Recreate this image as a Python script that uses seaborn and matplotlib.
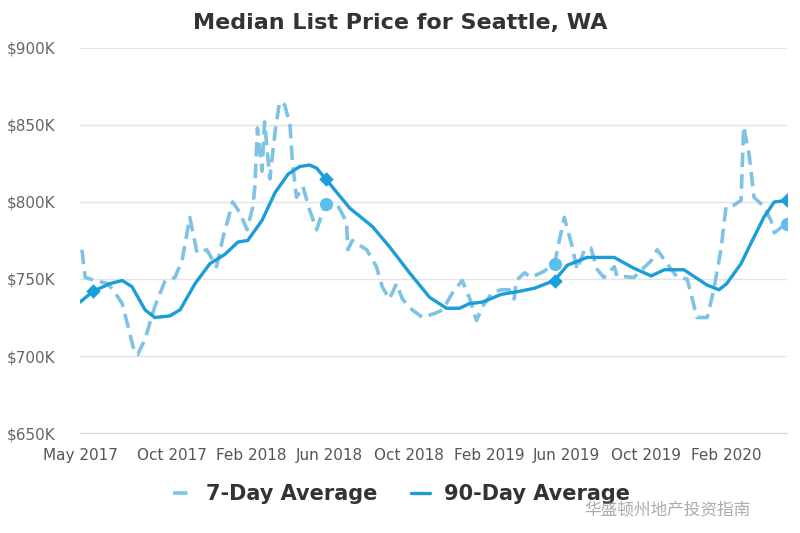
import matplotlib
matplotlib.use("Agg")
import matplotlib.pyplot as plt
from matplotlib.ticker import FuncFormatter
import pandas as pd
import seaborn as sns

# 7-day average ($K)
dates_7day = [
    "2017-05-16", "2017-05-21", "2017-06-05", "2017-06-25", "2017-07-06", "2017-07-17",
    "2017-07-26", "2017-08-05", "2017-08-10", "2017-08-21", "2017-09-05", "2017-09-21",
    "2017-10-06", "2017-10-17", "2017-10-29", "2017-11-09", "2017-11-24", "2017-12-09",
    "2017-12-19", "2018-01-03", "2018-01-14", "2018-01-25", "2018-02-03", "2018-02-06",
    "2018-02-10", "2018-02-17", "2018-02-21", "2018-03-01", "2018-03-09", "2018-03-16",
    "2018-03-24", "2018-04-01", "2018-04-05", "2018-04-11", "2018-04-21", "2018-05-01",
    "2018-05-12", "2018-05-26", "2018-06-12", "2018-06-27", "2018-06-29", "2018-07-06",
    "2018-07-28", "2018-08-12", "2018-08-21", "2018-09-01", "2018-09-12", "2018-09-21",
    "2018-10-06", "2018-10-22", "2018-11-12", "2018-11-22", "2018-12-07", "2018-12-22",
    "2019-01-02", "2019-01-13", "2019-01-22", "2019-02-06", "2019-02-20", "2019-03-04",
    "2019-03-12", "2019-03-15", "2019-03-28", "2019-04-07", "2019-04-27", "2019-05-13",
    "2019-05-28", "2019-06-08", "2019-06-17", "2019-06-28", "2019-07-08", "2019-07-18",
    "2019-07-28", "2019-08-13", "2019-08-17", "2019-09-12", "2019-10-09", "2019-10-18",
    "2019-11-02", "2019-11-18", "2019-12-03", "2019-12-11", "2019-12-18", "2020-01-03",
    "2020-01-13", "2020-01-24", "2020-02-01", "2020-02-13", "2020-02-24", "2020-02-28",
    "2020-03-07", "2020-03-15", "2020-03-30", "2020-04-10", "2020-04-15", "2020-05-04",
]
values_7day = [
    769, 751, 749, 747, 741, 734,
    719, 702, 701, 711, 732, 749,
    751, 762, 790, 767, 769, 758,
    777, 800, 793, 782, 797, 810,
    848, 820, 852, 815, 845, 865,
    863, 850, 825, 803, 810, 795,
    782, 799, 799, 787, 769, 775,
    769, 758, 745, 737, 747, 737,
    730, 725, 728, 730, 741, 749,
    738, 723, 732, 741, 743, 743,
    737, 749, 754, 751, 755, 760,
    790, 773, 756, 769, 770, 756,
    751, 758, 752, 751, 762, 769,
    760, 751, 750, 737, 725, 725,
    743, 769, 797, 798, 801, 849,
    832, 803, 797, 788, 780, 786,
]

# 90-day average ($K)
dates_90day = [
    "2017-05-13", "2017-06-02", "2017-06-28", "2017-07-17", "2017-08-01", "2017-08-21",
    "2017-09-05", "2017-09-28", "2017-10-14", "2017-11-06", "2017-11-29", "2017-12-22",
    "2018-01-11", "2018-01-26", "2018-02-17", "2018-03-09", "2018-03-29", "2018-04-16",
    "2018-05-01", "2018-05-12", "2018-05-26", "2018-07-02", "2018-08-06", "2018-09-01",
    "2018-10-02", "2018-11-02", "2018-11-28", "2018-12-18", "2019-01-02", "2019-01-22",
    "2019-02-20", "2019-03-20", "2019-04-12", "2019-05-13", "2019-06-02", "2019-07-02",
    "2019-08-13", "2019-09-12", "2019-10-09", "2019-10-29", "2019-11-28", "2020-01-03",
    "2020-01-21", "2020-02-02", "2020-02-24", "2020-03-10", "2020-03-30", "2020-04-15",
    "2020-05-04",
]
values_90day = [
    735, 742, 747, 749, 745, 730,
    725, 726, 730, 747, 760, 766,
    774, 775, 788, 806, 818, 823,
    824, 822, 815, 796, 784, 771,
    754, 738, 731, 731, 734, 735,
    740, 742, 744, 749, 759, 764,
    764, 757, 752, 756, 756, 746,
    743, 747, 760, 773, 790, 800,
    801,
]

# highlighted points
marker_dates_7day = ["2018-05-26", "2019-05-13", "2020-05-04"]
marker_dates_90day = ["2017-06-02", "2018-05-26", "2019-05-13", "2020-05-04"]

tick_dates = ["2017-05-13", "2017-10-01", "2018-02-01", "2018-06-01", "2018-10-01",
              "2019-02-01", "2019-06-01", "2019-10-01", "2020-02-01"]
tick_labels = ["May 2017", "Oct 2017", "Feb 2018", "Jun 2018", "Oct 2018",
               "Feb 2019", "Jun 2019", "Oct 2019", "Feb 2020"]

df7 = pd.DataFrame({"date": pd.to_datetime(dates_7day), "price": values_7day})
df90 = pd.DataFrame({"date": pd.to_datetime(dates_90day), "price": values_90day})

sns.set_style("white")
plt.rcParams["font.family"] = ["DejaVu Sans", "Noto Sans CJK SC"]

color_7 = "#7fc3e4"
color_90 = "#1b9dd7"

fig = plt.figure(figsize=(8, 5.33), dpi=100)
ax = fig.add_axes([0.1, 0.1876, 0.884, 0.7224])

sns.lineplot(data=df7, x="date", y="price", ax=ax, color=color_7, lw=2.6,
             label="7-Day Average")
ax.lines[-1].set_dashes([4, 2])
sns.lineplot(data=df90, x="date", y="price", ax=ax, color=color_90, lw=2.4,
             label="90-Day Average")

m7 = df7[df7["date"].isin(pd.to_datetime(marker_dates_7day))]
m90 = df90[df90["date"].isin(pd.to_datetime(marker_dates_90day))]
ax.scatter(m7["date"], m7["price"], s=90, color="#5bbfeb", zorder=5, linewidths=0)
ax.scatter(m90["date"], m90["price"], s=55, marker="D", color="#1a9fdc", zorder=6,
           linewidths=0)

ax.set_ylim(650, 900)
ax.set_yticks(range(650, 901, 50))
ax.yaxis.set_major_formatter(FuncFormatter(lambda v, p: f"${int(v)}K"))
ax.set_xlim(pd.Timestamp("2017-05-13"), pd.Timestamp("2020-05-05"))
ax.set_xticks(pd.to_datetime(tick_dates))
ax.set_xticklabels(tick_labels)

ax.grid(axis="y", color="#e3e3e3", lw=1)
ax.grid(axis="x", visible=False)
for side in ["top", "right", "left"]:
    ax.spines[side].set_visible(False)
ax.spines["bottom"].set_color("#ccd6eb")
ax.tick_params(axis="x", colors="#ccd6eb", length=9, width=1, labelcolor="#555555",
               labelsize=11, pad=2)
ax.tick_params(axis="y", length=0, labelcolor="#666666", labelsize=11, pad=18)
ax.set_xlabel("")
ax.set_ylabel("")

fig.suptitle("Median List Price for Seattle, WA", x=0.5, y=0.975, fontsize=16,
             fontweight="bold", color="#333333")

leg = ax.legend(loc="upper center", bbox_to_anchor=(0.455, -0.085), ncol=2, frameon=False,
                handlelength=0.9, handletextpad=0.7, columnspacing=1.6,
                prop={"weight": "bold", "size": 15})
for t in leg.get_texts():
    t.set_color("#333333")

fig.text(0.73, 0.035, "华盛顿州地产投资指南", fontsize=12, color="#888888", alpha=0.7,
         family=["Noto Sans CJK SC", "DejaVu Sans"])

fig.savefig("out.png", dpi=100)
